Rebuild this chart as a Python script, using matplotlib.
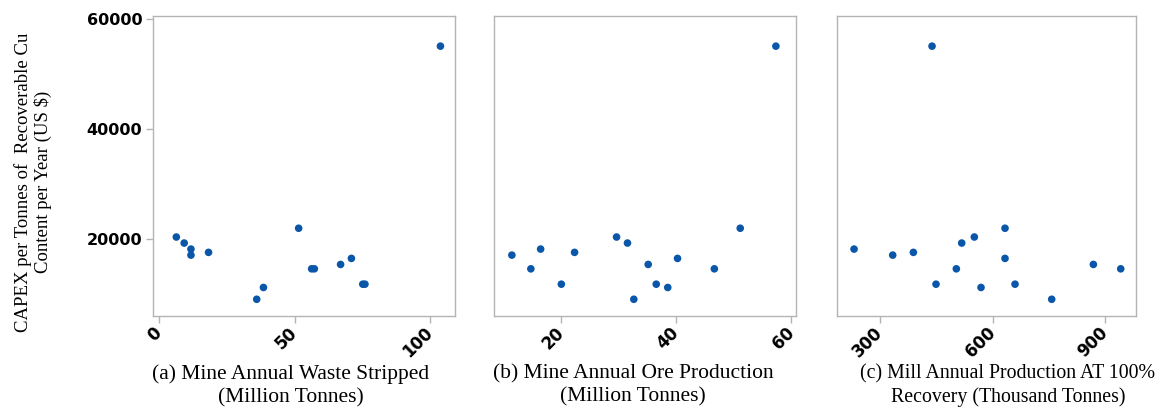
import matplotlib
matplotlib.use("Agg")
import matplotlib.pyplot as plt

# CAPEX per tonne of recoverable Cu per year (US $), one value per mine
capex = [55100, 21900, 20300, 19200, 18100, 17500, 17000, 16400,
         15300, 14500, 14500, 11700, 11700, 11100, 8950]

waste_stripped = [103.9, 51.5, 6.3, 9.2, 11.7, 18.2, 11.7, 71.0,
                  67.0, 56.3, 57.3, 75.2, 76.0, 38.5, 36.0]
ore_production = [57.3, 51.1, 29.6, 31.5, 16.4, 22.3, 11.4, 40.2,
                  35.1, 14.7, 46.6, 20.0, 36.5, 38.5, 32.6]
mill_production = [438.7, 633.3, 551.5, 517.8, 230.7, 388.9, 333.8, 633.3,
                   868.9, 503.5, 941.9, 449.3, 660.0, 569.3, 757.8]

titles = ["(a) Mine Annual Waste Stripped\n(Million Tonnes)",
          "(b) Mine Annual Ore Production\n(Million Tonnes)",
          "(c) Mill Annual Production AT 100%\nRecovery (Thousand Tonnes)"]
xticks = [[0, 50, 100], [20, 40, 60], [300, 600, 900]]
xlims = [(-2.2, 109.4), (8.3, 60.8), (184.5, 982.7)]
yticks = [20000, 40000, 60000]

serif = "Liberation Serif"
frame_col = "#b4b4b4"
dot_col = "#0a56a8"

fig = plt.figure(figsize=(11.66, 4.09), dpi=100)
boxes = [[0.1315, 0.2274, 0.259, 0.7335],
         [0.4237, 0.2274, 0.259, 0.7335],
         [0.7176, 0.2274, 0.2567, 0.7335]]
title_x = [0.456, 0.46, 0.572]
title_fs = [15.5, 15.5, 14.3]

for i, xs in enumerate([waste_stripped, ore_production, mill_production]):
    ax = fig.add_axes(boxes[i])
    ax.scatter(xs, capex, s=30, color=dot_col, edgecolors="none", zorder=3)
    ax.set_xlim(*xlims[i])
    ax.set_ylim(5900, 60600)
    ax.set_xticks(xticks[i])
    ax.set_xticklabels([str(t) for t in xticks[i]], rotation=45, ha="right",
                       va="center", rotation_mode="anchor",
                       fontsize=12, fontweight="bold")
    for s in ax.spines.values():
        s.set_color(frame_col)
        s.set_linewidth(1.0)
    ax.tick_params(axis="x", direction="out", length=5, color=frame_col,
                   width=1, pad=5)
    if i == 0:
        ax.set_yticks(yticks)
        ax.set_yticklabels([str(t) for t in yticks], fontsize=11.5,
                           fontweight="bold")
        ax.tick_params(axis="y", direction="out", length=5, color=frame_col,
                       width=1, pad=3)
    else:
        ax.set_yticks([])
    ax.text(title_x[i], -0.16, titles[i], transform=ax.transAxes,
            ha="center", va="top", fontsize=title_fs[i], family=serif,
            linespacing=1.3)

fig.text(0.028, 0.555, "CAPEX per Tonnes of  Recoverable Cu\nContent per Year (US $)",
         rotation=90, ha="center", va="center", fontsize=13.5, family=serif,
         linespacing=1.15)

fig.savefig("out.png", dpi=100)
